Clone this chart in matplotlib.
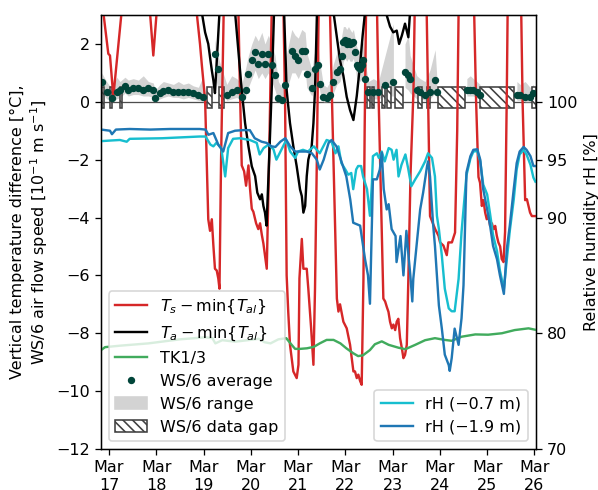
import datetime as dt
import numpy as np
import matplotlib
matplotlib.use("Agg")
import matplotlib.pyplot as plt
import matplotlib.dates as mdates
from matplotlib.lines import Line2D
from matplotlib.patches import Patch, Rectangle

# ---------------------------------------------------------------------------
# Data: times are hours after 17 March 00:00
# ---------------------------------------------------------------------------
# Surface temperature minus minimum air temperature [°C]
ts_hours = [-4.0, -2.9, -0.35, 0.5, 2.2, 6.45, 13.2, 19.8, 20.8, 22.5,
            24.2, 25.9, 35.0, 44.5, 46.2, 47.1, 48.8, 50.4, 51.3, 52.2,
            53.0, 53.8, 54.7, 55.5, 56.1, 56.9, 58.2, 61.5, 65.7, 66.5,
            67.4, 68.6, 69.6, 70.8, 71.6, 72.5, 73.3, 74.7, 75.8, 76.7,
            77.6, 78.4, 80.1, 81.3, 82.6, 85.3, 88.5, 89.4, 90.2, 91.0,
            91.9, 93.6, 95.3, 96.2, 96.7, 97.9, 98.7, 100.4, 101.2, 102.6,
            103.8, 104.6, 105.6, 106.4, 109.2, 112.2, 113.1, 115.7, 116.5, 117.3,
            119.0, 120.7, 122.4, 124.1, 124.9, 125.8, 126.6, 127.5, 128.3, 129.2,
            129.8, 130.5, 133.1, 136.1, 136.8, 139.3, 140.2, 141.1, 141.9, 142.7,
            143.6, 144.4, 145.3, 146.1, 146.9, 147.8, 148.7, 149.5, 150.3, 151.2,
            152.0, 153.1, 154.6, 155.2, 158.0, 161.3, 162.3, 163.0, 165.6, 167.3,
            168.1, 169.8, 171.5, 172.3, 174.1, 175.7, 176.8, 177.5, 181.3, 185.4,
            186.4, 187.6, 188.4, 189.3, 190.1, 191.0, 191.8, 192.6, 193.5, 194.4,
            195.2, 196.1, 196.9, 197.7, 198.6, 199.4, 200.3, 201.1, 202.0, 202.4,
            205.7, 209.3, 210.0, 211.3, 212.2, 213.0, 213.8, 214.7, 215.5, 216.4]
ts_values = [6.0, 3.1, 1.66, 1.6, 0.17, 3.15, 9.0, 5.0, 3.1, 1.6,
             3.1, 6.0, 12.0, 3.1, 2.0, 1.3, 0.06, -4.06, -4.46, -4.06,
             -4.97, -5.77, -5.83, -6.11, -6.46, -2.0, 3.0, 10.0, 3.1, 0.4,
             -2.2, -2.4, -2.9, -2.2, -3.0, -3.7, -3.8, -4.2, -4.4, -4.2,
             -4.6, -4.9, -5.77, -2.0, 3.1, 10.0, 3.5, 0.0, -6.0, -7.25,
             -8.4, -9.32, -9.55, -9.09, -6.1, -4.74, -5.77, -5.77, -6.46, -7.8,
             -9.09, -6.46, -1.66, 3.0, 10.0, 3.1, 0.4, -6.8, -7.25, -7.0,
             -7.6, -7.83, -8.4, -9.32, -9.32, -9.55, -9.43, -9.65, -9.78, -6.1,
             -1.0, 3.1, 10.0, 3.1, 0.4, -6.8, -6.9, -7.1, -7.26, -7.6,
             -7.83, -7.7, -7.89, -7.6, -7.5, -8.17, -8.52, -8.86, -8.75, -8.4,
             -6.1, -2.5, 0.4, 3.1, 10.0, 3.1, -1.0, -3.95, -4.4, -4.63,
             -4.86, -4.97, -5.3, -4.86, -4.86, -4.52, -1.0, 3.1, 9.0, 3.1,
             0.0, -2.6, -2.8, -3.6, -3.4, -3.83, -4.06, -3.9, -4.29, -4.2,
             -4.4, -4.29, -4.63, -4.86, -5.0, -5.43, -5.54, -4.5, 0.4, 3.1,
             9.0, 3.1, 0.0, -3.4, -3.37, -3.6, -3.83, -3.95, -3.95, -3.95]

# Air temperature minus minimum air temperature [°C]
ta_hours = [-4.0, 10.7, 23.4, 36.1, 47.1, 48.8, 50.4, 51.3, 52.2, 53.0,
            53.8, 54.8, 56.1, 60.4, 64.0, 67.4, 69.1, 70.8, 72.5, 74.2,
            75.3, 76.7, 77.6, 78.4, 79.2, 80.0, 81.3, 82.6, 83.8, 86.3,
            88.9, 90.2, 91.9, 93.6, 95.3, 97.0, 97.9, 98.7, 99.6, 100.4,
            101.2, 102.9, 103.8, 104.6, 105.6, 109.7, 113.9, 115.7, 117.3, 119.0,
            120.7, 122.4, 124.1, 125.8, 127.5, 128.8, 130.0, 135.1, 140.2, 141.1,
            142.7, 144.3, 146.1, 147.3, 148.7, 150.3, 152.0, 152.9, 158.0, 170.7,
            180.9, 196.1, 206.2, 216.4]
ta_values = [6.0, 11.0, 5.0, 12.0, 3.1, 2.4, 2.0, 1.54, 1.09, 0.74,
             0.3, 1.5, 3.1, 10.0, 3.1, 0.4, -0.74, -1.54, -2.23, -2.57,
             -3.14, -3.37, -3.2, -3.6, -3.83, -4.28, -2.0, 0.4, 3.1, 9.0,
             3.1, 0.4, -0.74, -1.54, -2.23, -3.03, -3.26, -3.83, -3.6, -2.57,
             -2.0, -1.54, -0.74, 0.4, 3.1, 10.0, 3.14, 2.23, 1.43, 0.9,
             0.17, -0.29, -0.63, 0.2, 1.3, 2.3, 3.1, 9.0, 3.1, 2.97,
             2.6, 2.4, 2.46, 2.0, 2.29, 2.7, 2.23, 3.15, 9.0, 5.0,
             10.0, 5.0, 10.0, 6.0]

# TK1/3 temperature difference [°C]
tk_hours = [-4, -2, 5.5, 20, 36, 49, 52.5, 54, 57.5, 64,
            70.5, 76, 79, 82, 86, 90, 92.5, 94.5, 97, 100.5,
            104, 107, 110.5, 114, 117.5, 120.5, 124, 126.5, 129, 132.5,
            135, 138.5, 142, 147, 150.5, 155.5, 160.5, 165.5, 170.5, 174,
            179, 186, 192.5, 199.5, 206, 213, 216.5]
tk_values = [-8.58, -8.48, -8.43, -8.35, -8.21, -8.14, -8.17, -8.35, -8.24, -8.29,
             -8.24, -8.19, -8.31, -8.35, -8.21, -8.17, -8.38, -8.54, -8.54, -8.52,
             -8.47, -8.35, -8.23, -8.23, -8.35, -8.52, -8.69, -8.79, -8.76, -8.58,
             -8.38, -8.28, -8.4, -8.5, -8.55, -8.4, -8.24, -8.17, -8.23, -8.26,
             -8.12, -8.04, -8.05, -8.0, -7.89, -7.83, -7.88]

# WS/6 air flow speed [0.1 m/s]: average, minimum and maximum
ws_hours = [-3.7, -1.2, 1.4, 3.9, 5.6, 8.1, 9.8, 12.3, 14.9, 17.4,
            20.0, 22.5, 23.4, 25.9, 27.6, 30.1, 32.7, 35.2, 37.7, 40.3,
            42.8, 45.4, 47.9, 53.8, 55.2, 59.8, 62.3, 64.9, 67.4, 69.5,
            70.8, 72.5, 74.2, 75.8, 77.6, 79.2, 80.9, 82.6, 84.3, 86.0,
            87.7, 89.4, 92.8, 94.5, 96.1, 97.9, 99.6, 100.4, 103.0, 104.6,
            106.3, 107.2, 108.8, 110.6, 112.2, 113.9, 115.7, 117.3, 118.2, 119.0,
            119.9, 120.7, 121.6, 122.4, 123.3, 124.1, 124.9, 125.8, 126.6, 127.5,
            128.3, 129.2, 130.0, 131.7, 134.2, 136.8, 140.2, 144.4, 150.3, 152.0,
            152.9, 156.3, 158.0, 160.5, 163.0, 165.6, 166.4, 181.7, 183.4, 185.0,
            186.8, 188.4, 207.1, 208.8, 211.3, 213.8, 215.5]
ws_avg = [0.69, 0.34, 0.12, 0.34, 0.40, 0.54, 0.40, 0.46, 0.49, 0.40,
          0.46, 0.40, 0.12, 0.29, 0.38, 0.40, 0.34, 0.34, 0.34, 0.34,
          0.31, 0.23, 0.15, 1.66, 1.15, 0.23, 0.34, 0.40, 0.17, 0.40,
          0.97, 1.43, 1.72, 1.32, 1.66, 1.32, 1.66, 1.26, 0.92, 0.12,
          0.06, 0.57, 1.77, 1.60, 1.43, 1.77, 1.77, 0.97, 0.46, 1.15,
          1.26, 0.63, 0.17, 0.12, 0.23, 0.69, 1.03, 1.15, 1.60, 2.06,
          2.12, 2.00, 2.09, 2.00, 2.03, 2.06, 1.72, 1.26, 1.20, 1.15,
          1.26, 1.43, 0.80, 0.34, 0.34, 0.34, 0.57, 0.69, 1.03, 0.92,
          0.80, 0.40, 0.34, 0.23, 0.34, 0.74, 0.34, 0.40, 0.42, 0.40,
          0.34, 0.23, 0.23, 0.23, 0.17, 0.15, 0.29]
ws_min = [0.35, 0.1, 0.0, 0.1, 0.15, 0.3, 0.2, 0.25, 0.25, 0.2,
          0.2, 0.15, 0.0, 0.1, 0.15, 0.2, 0.15, 0.15, 0.1, 0.15,
          0.1, 0.05, 0.0, 0.9, 0.5, 0.05, 0.1, 0.15, 0.0, 0.2,
          0.5, 0.8, 1.1, 0.8, 1.0, 0.8, 1.0, 0.7, 0.4, 0.0,
          0.0, 0.2, 1.0, 1.0, 0.8, 1.1, 1.1, 0.5, 0.2, 0.6,
          0.7, 0.3, 0.0, 0.0, 0.05, 0.3, 0.6, 0.7, 1.0, 1.4,
          1.5, 1.4, 1.5, 1.4, 1.4, 1.5, 1.2, 0.8, 0.8, 0.7,
          0.8, 0.9, 0.4, 0.1, 0.1, 0.1, 0.2, 0.2, 0.5, 0.4,
          0.3, 0.1, 0.1, 0.05, 0.1, 0.3, 0.1, 0.2, 0.2, 0.2,
          0.15, 0.05, 0.05, 0.05, 0.0, 0.0, 0.1]
ws_max = [1.0, 0.7, 0.45, 0.85, 0.7, 0.85, 0.75, 0.8, 0.75, 0.9,
          0.7, 0.65, 0.4, 0.6, 0.7, 0.65, 0.6, 0.7, 0.6, 0.65,
          0.55, 0.5, 0.9, 2.15, 1.6, 0.6, 0.9, 0.8, 0.6, 1.2,
          1.6, 2.0, 2.3, 2.1, 2.4, 2.0, 2.3, 2.0, 1.6, 0.7,
          0.5, 1.4, 2.5, 2.3, 2.2, 2.5, 2.4, 1.7, 1.1, 1.8,
          1.9, 1.3, 0.6, 0.5, 0.7, 1.3, 1.7, 1.9, 2.3, 2.6,
          2.6, 2.5, 2.6, 2.5, 2.4, 2.5, 2.2, 1.9, 1.8, 1.7,
          1.9, 2.1, 1.4, 0.7, 0.8, 0.7, 1.6, 2.7, 2.0, 2.3,
          1.6, 0.9, 0.8, 0.7, 1.1, 1.8, 0.9, 0.8, 0.9, 0.8,
          0.7, 0.6, 0.7, 0.6, 0.7, 0.5, 0.6]

# WS/6 data gaps (start / end hour) and the band they are marked in
gap_start = [-3.7, 0.5, 5.6, 49.6, 55.9, 130.9, 133.3, 138.5, 141.0, 145.3,
             157.1, 161.4, 167.3, 188.4, 214.8]
gap_end = [-2.4, 1.7, 6.8, 52.2, 58.6, 132.3, 134.6, 139.9, 143.1, 149.5,
           158.8, 163.0, 180.6, 205.7, 216.9]
gap_low, gap_high = -0.2, 0.5

# Relative humidity [%] at -0.7 m and -1.9 m
rh07_hours = [-4, 0.5, 5.5, 9, 10.5, 27, 46, 49, 51.5, 53,
              54.5, 57, 59, 60.5, 63, 66.5, 71.5, 75, 76.5, 78.5,
              81, 83.5, 85, 87.5, 90, 92, 94.5, 96, 98.5, 101,
              104, 107, 110.5, 113, 115, 116.5, 118, 120, 121.5, 123,
              124, 125.5, 126.5, 128, 129, 131, 132.5, 133.5, 134, 136,
              137, 138.5, 140, 142, 143.5, 144.5, 146, 147, 148.5, 150.5,
              152, 153.5, 155.5, 158, 160.5, 162, 164, 165.5, 166.5, 167.5,
              169, 170.5, 172.5, 174, 175.5, 177.5, 179, 181.5, 183.5, 185,
              187, 188.5, 190, 192, 193.5, 195, 197, 198.5, 200.5, 202,
              203.5, 205.5, 207, 208.5, 210.5, 212, 214, 215.5, 216.5]
rh07_values = [96.6, 96.65, 96.7, 96.55, 96.8, 96.85, 97.0, 97.0, 96.3, 96.15,
               96.45, 96.0, 93.55, 96.0, 96.8, 96.85, 96.7, 96.45, 95.45, 96.0,
               96.3, 95.9, 95.0, 95.85, 96.7, 95.7, 95.15, 95.7, 95.85, 95.7,
               96.15, 95.55, 96.7, 96.55, 95.55, 96.15, 94.7, 94.15, 93.7, 93.85,
               92.45, 94.15, 94.45, 94.45, 93.55, 92.45, 90.15, 93.0, 95.3, 95.55,
               95.15, 95.7, 94.85, 96.0, 95.85, 95.0, 95.85, 93.55, 94.55, 95.45,
               94.15, 92.7, 93.3, 94.0, 94.85, 95.55, 95.15, 93.55, 90.15, 89.0,
               86.7, 83.85, 82.15, 81.9, 81.9, 84.7, 88.75, 93.65, 95.1, 95.7,
               95.75, 94.85, 92.85, 92.0, 90.3, 88.5, 87.1, 85.4, 83.85, 86.4,
               88.85, 91.55, 94.15, 95.45, 95.85, 95.45, 94.55, 93.45, 93.1]
rh19_hours = [-4, 0.5, 1.5, 3.5, 10.5, 21, 31, 41, 46, 49,
              50.5, 53, 55.5, 58, 60.5, 64, 68, 71.5, 74, 77.5,
              80, 82.5, 84.5, 87, 89.5, 92, 94.5, 98, 100.5, 103,
              105.5, 107, 109, 111.5, 113, 115.5, 118, 120.5, 122.5, 124,
              127.5, 130, 131.5, 132.5, 133.5, 134, 136, 137.5, 138.5, 139.5,
              141, 142, 143.5, 145.5, 146, 148, 149.5, 151, 152, 153,
              154, 154.5, 156.5, 158, 159.5, 161.5, 162, 163, 164.5, 165.5,
              167.5, 169, 170.5, 172.5, 173, 174, 175.5, 177.5, 179, 180,
              181.5, 183.5, 185, 187, 188.5, 190, 192, 193.5, 195, 197,
              198.5, 200.5, 202, 203.5, 205.5, 207, 208.5, 210.5, 212, 214,
              215.5, 216.5]
rh19_values = [97.6, 97.5, 97.2, 97.6, 97.65, 97.6, 97.65, 97.65, 97.65, 97.6,
               97.15, 97.3, 96.3, 95.7, 97.3, 97.5, 97.55, 97.55, 96.85, 96.55,
               96.45, 96.15, 96.1, 96.55, 96.85, 96.15, 95.7, 95.7, 95.7, 95.55,
               95.0, 94.15, 95.0, 96.45, 96.7, 96.15, 94.85, 93.55, 91.55, 89.55,
               89.3, 86.4, 85.0, 82.55, 89.6, 93.3, 93.3, 94.15, 95.6, 92.45,
               90.7, 91.15, 89.0, 88.4, 86.15, 88.4, 85.0, 88.85, 86.85, 85.0,
               82.75, 84.7, 88.15, 90.7, 92.15, 94.45, 94.85, 93.55, 89.55, 87.55,
               82.4, 80.4, 78.15, 77.25, 76.75, 77.85, 80.4, 79.0, 81.3, 84.15,
               93.9, 95.3, 95.85, 95.9, 95.0, 92.45, 90.7, 89.3, 87.55, 86.4,
               85.0, 83.4, 87.3, 89.3, 92.45, 94.7, 95.7, 96.1, 95.85, 95.3,
               94.45, 94.45]

# ---------------------------------------------------------------------------
T0 = mdates.date2num(dt.datetime(2023, 3, 17))


def to_time(hours):
    return T0 + np.asarray(hours, dtype=float) / 24.0


C_TS = "#d62728"
C_TA = "black"
C_TK = "#41ab5d"
C_WS = "#01453a"
C_RANGE = "lightgray"
C_RH07 = "#17becf"
C_RH19 = "#1f77b4"
HATCH = "\\\\\\\\"
LW = 1.5

DPI = 115
fig = plt.figure(figsize=(598 / DPI, 490 / DPI), dpi=DPI)
ax = fig.add_axes([0.1689, 0.0837, 0.7274, 0.8857])
ax2 = ax.twinx()

ax.axhline(0, color="0.3", lw=0.8, zorder=1)

# WS/6 range band, interrupted where the record has long holes
ws_t = to_time(ws_hours)
ws_lo = np.asarray(ws_min)
ws_hi = np.asarray(ws_max)
breaks = np.where(np.diff(ws_hours) > 5)[0] + 1
for seg in np.split(np.arange(len(ws_hours)), breaks):
    ax.fill_between(ws_t[seg], ws_lo[seg], ws_hi[seg], color=C_RANGE,
                    lw=0, zorder=1.5)

# WS/6 data gaps
for s, e in zip(gap_start, gap_end):
    ax.add_patch(Rectangle((to_time(s), gap_low), (e - s) / 24.0,
                           gap_high - gap_low, facecolor="white",
                           edgecolor="0.25", hatch=HATCH, lw=1.0, zorder=2))

ax.plot(to_time(ts_hours), ts_values, color=C_TS, lw=LW, zorder=3)
ax.plot(to_time(ta_hours), ta_values, color=C_TA, lw=LW, zorder=3)
ax.plot(to_time(tk_hours), tk_values, color=C_TK, lw=LW, zorder=3)
ax.plot(ws_t, ws_avg, "o", color=C_WS, ms=3.6, zorder=4)

ax2.plot(to_time(rh07_hours), rh07_values, color=C_RH07, lw=LW)
ax2.plot(to_time(rh19_hours), rh19_values, color=C_RH19, lw=LW)

ax.set_xlim(to_time(-4.06), to_time(216.8))
ax.set_ylim(-12, 3)
ax.set_yticks(np.arange(-12, 3, 2))
ax2.set_ylim(70, 107.5)
ax2.set_yticks([70, 80, 90, 95, 100])

ax.xaxis.set_major_locator(mdates.DayLocator())
ax.xaxis.set_major_formatter(mdates.DateFormatter("%b\n%d"))

ax.set_ylabel("Vertical temperature difference [°C],\n"
              "WS/6 air flow speed [10$^{-1}$ m s$^{-1}$]")
ax2.set_ylabel("Relative humidity rH [%]")

handles = [
    Line2D([], [], color=C_TS, lw=LW),
    Line2D([], [], color=C_TA, lw=LW),
    Line2D([], [], color=C_TK, lw=LW),
    Line2D([], [], color=C_WS, marker="o", ms=3.6, ls="none"),
    Patch(facecolor=C_RANGE, edgecolor=C_RANGE),
    Patch(facecolor="white", edgecolor="0.25", hatch=HATCH),
]
labels = [r"$T_s - \min\{T_{al}\}$", r"$T_a - \min\{T_{al}\}$", "TK1/3",
          "WS/6 average", "WS/6 range", "WS/6 data gap"]
ax.legend(handles, labels, loc="lower left")

rh_handles = [Line2D([], [], color=C_RH07, lw=LW),
              Line2D([], [], color=C_RH19, lw=LW)]
ax2.legend(rh_handles, ["rH (\u22120.7 m)", "rH (\u22121.9 m)"],
           loc="lower right")

fig.savefig("out.png", dpi=DPI)
